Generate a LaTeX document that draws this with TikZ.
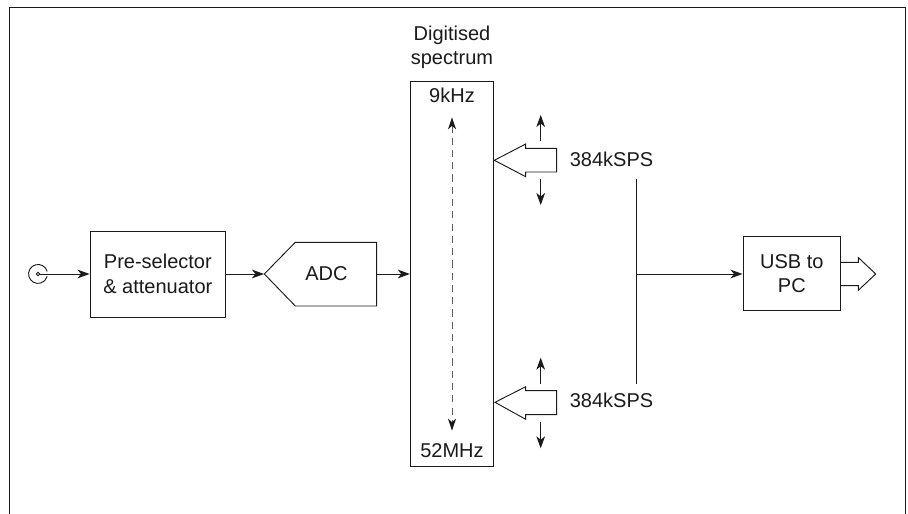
\documentclass[tikz,border=0pt]{standalone}
\usepackage{fontspec}
\setmainfont{Liberation Sans}
\usetikzlibrary{arrows.meta}
\definecolor{ink}{HTML}{1A1A1A}
\definecolor{greyline}{HTML}{606060}
\tikzset{x=0.75pt,y=-0.75pt,
  box/.style={draw=ink,line width=0.7pt,fill=white,inner sep=0pt,align=center,font=\fontsize{15pt}{18.6pt}\selectfont,text=ink},
  label/.style={inner sep=0pt,align=center,font=\fontsize{15pt}{18pt}\selectfont,text=ink},
  shp/.style={draw=ink,line width=0.7pt,fill=white,line join=miter},
  arr/.style={draw=ink,line width=0.7pt,-{Stealth[length=9pt,width=6.5pt,inset=2.6pt]}},
  dasharr/.style={draw=greyline,line width=0.75pt,dash pattern=on 5.4pt off 3.8pt,{Stealth[length=9pt,width=6pt,inset=2.6pt,color=ink]}-{Stealth[length=9pt,width=6pt,inset=2.6pt,color=ink]}},
  bus/.style={draw=ink,line width=0.75pt}}
\begin{document}
\begin{tikzpicture}
\useasboundingbox (0,0) rectangle (908,514);
\draw[draw=ink,line width=0.75pt] (9,514) -- (9,7.5) -- (905.5,7.5) -- (905.5,514);
% connector symbol
\coordinate (jack) at (38,274);
\draw[draw=ink,line width=0.7pt] (47.2,271.5) arc[start angle=15,end angle=345,radius=7.1pt];
\node[box,minimum width=135.7*0.75pt,minimum height=85.7*0.75pt] (pre) at (157.85,274.2) {Pre-selector\\\& attenuator};
\draw[shp] (264.3,274) -- (295.3,242.3) -- (376.7,242.3) -- (376.7,306) -- (295.3,306) -- cycle;
\coordinate (adcin) at (264,274);
\coordinate (adcout) at (376.7,274);
\node[label] (adc) at (326.5,273.5) {ADC};
\node[box,minimum width=83.4*0.75pt,minimum height=385.4*0.75pt] (spec) at (452,274) {};
\node[label] (title) at (452,47.5) {Digitised\\spectrum};
\node[label] (t9) at (452,95) {9kHz};
\node[label] (t52) at (452,451) {52MHz};
\coordinate (dtop) at (452,117.3);
\coordinate (dbot) at (452,430.7);
\draw[dasharr] (dtop) -- (dbot);
\draw[arr] (jack) -- (pre.west |- jack);
\fill[white] (jack) circle (1.8);
\draw[draw=ink,line width=0.7pt] (jack) circle (1.8);
\draw[arr] (pre.east |- adcin) -- (adcin);
\draw[arr] (adcout) -- (spec.west |- adcout);
% upper arrow
\draw[shp] (494.3,160.3) -- (525.7,144) -- (525.7,148.3) -- (556.7,148.3) -- (556.7,172) -- (525.7,172) -- (525.7,176.7) -- cycle;
\coordinate (ua1) at (540.7,141);
\coordinate (ua2) at (540.7,115);
\coordinate (ua3) at (540.7,179.3);
\coordinate (ua4) at (540.7,205);
\draw[arr] (ua1) -- (ua2);
\draw[arr] (ua3) -- (ua4);
\node[label] (s1) at (611.5,159.5) {384kSPS};
% lower arrow
\draw[shp] (495,402.3) -- (525.7,386.7) -- (525.7,390.7) -- (556.7,390.7) -- (556.7,414.7) -- (525.7,414.7) -- (525.7,419.3) -- cycle;
\coordinate (la1) at (540.7,383.7);
\coordinate (la2) at (540.7,357.7);
\coordinate (la3) at (540.7,422);
\coordinate (la4) at (540.7,448.3);
\draw[arr] (la1) -- (la2);
\draw[arr] (la3) -- (la4);
\node[label] (s2) at (611.5,400.5) {384kSPS};
% bus
\coordinate (bt) at (636,179.3);
\coordinate (bb) at (636,383.7);
\coordinate (bm) at (636,274);
\draw[bus] (bt) -- (bb);
\node[box,minimum width=97.7*0.75pt,minimum height=74*0.75pt] (usb) at (791.85,273.7) {USB to\\PC};
\draw[arr] (bm) -- (usb.west |- bm);
\draw[shp] (841,262.3) -- (858.3,262.3) -- (858.3,257.5) -- (875.7,274) -- (858.3,290.3) -- (858.3,285.7) -- (841,285.7);
\end{tikzpicture}
\end{document}
